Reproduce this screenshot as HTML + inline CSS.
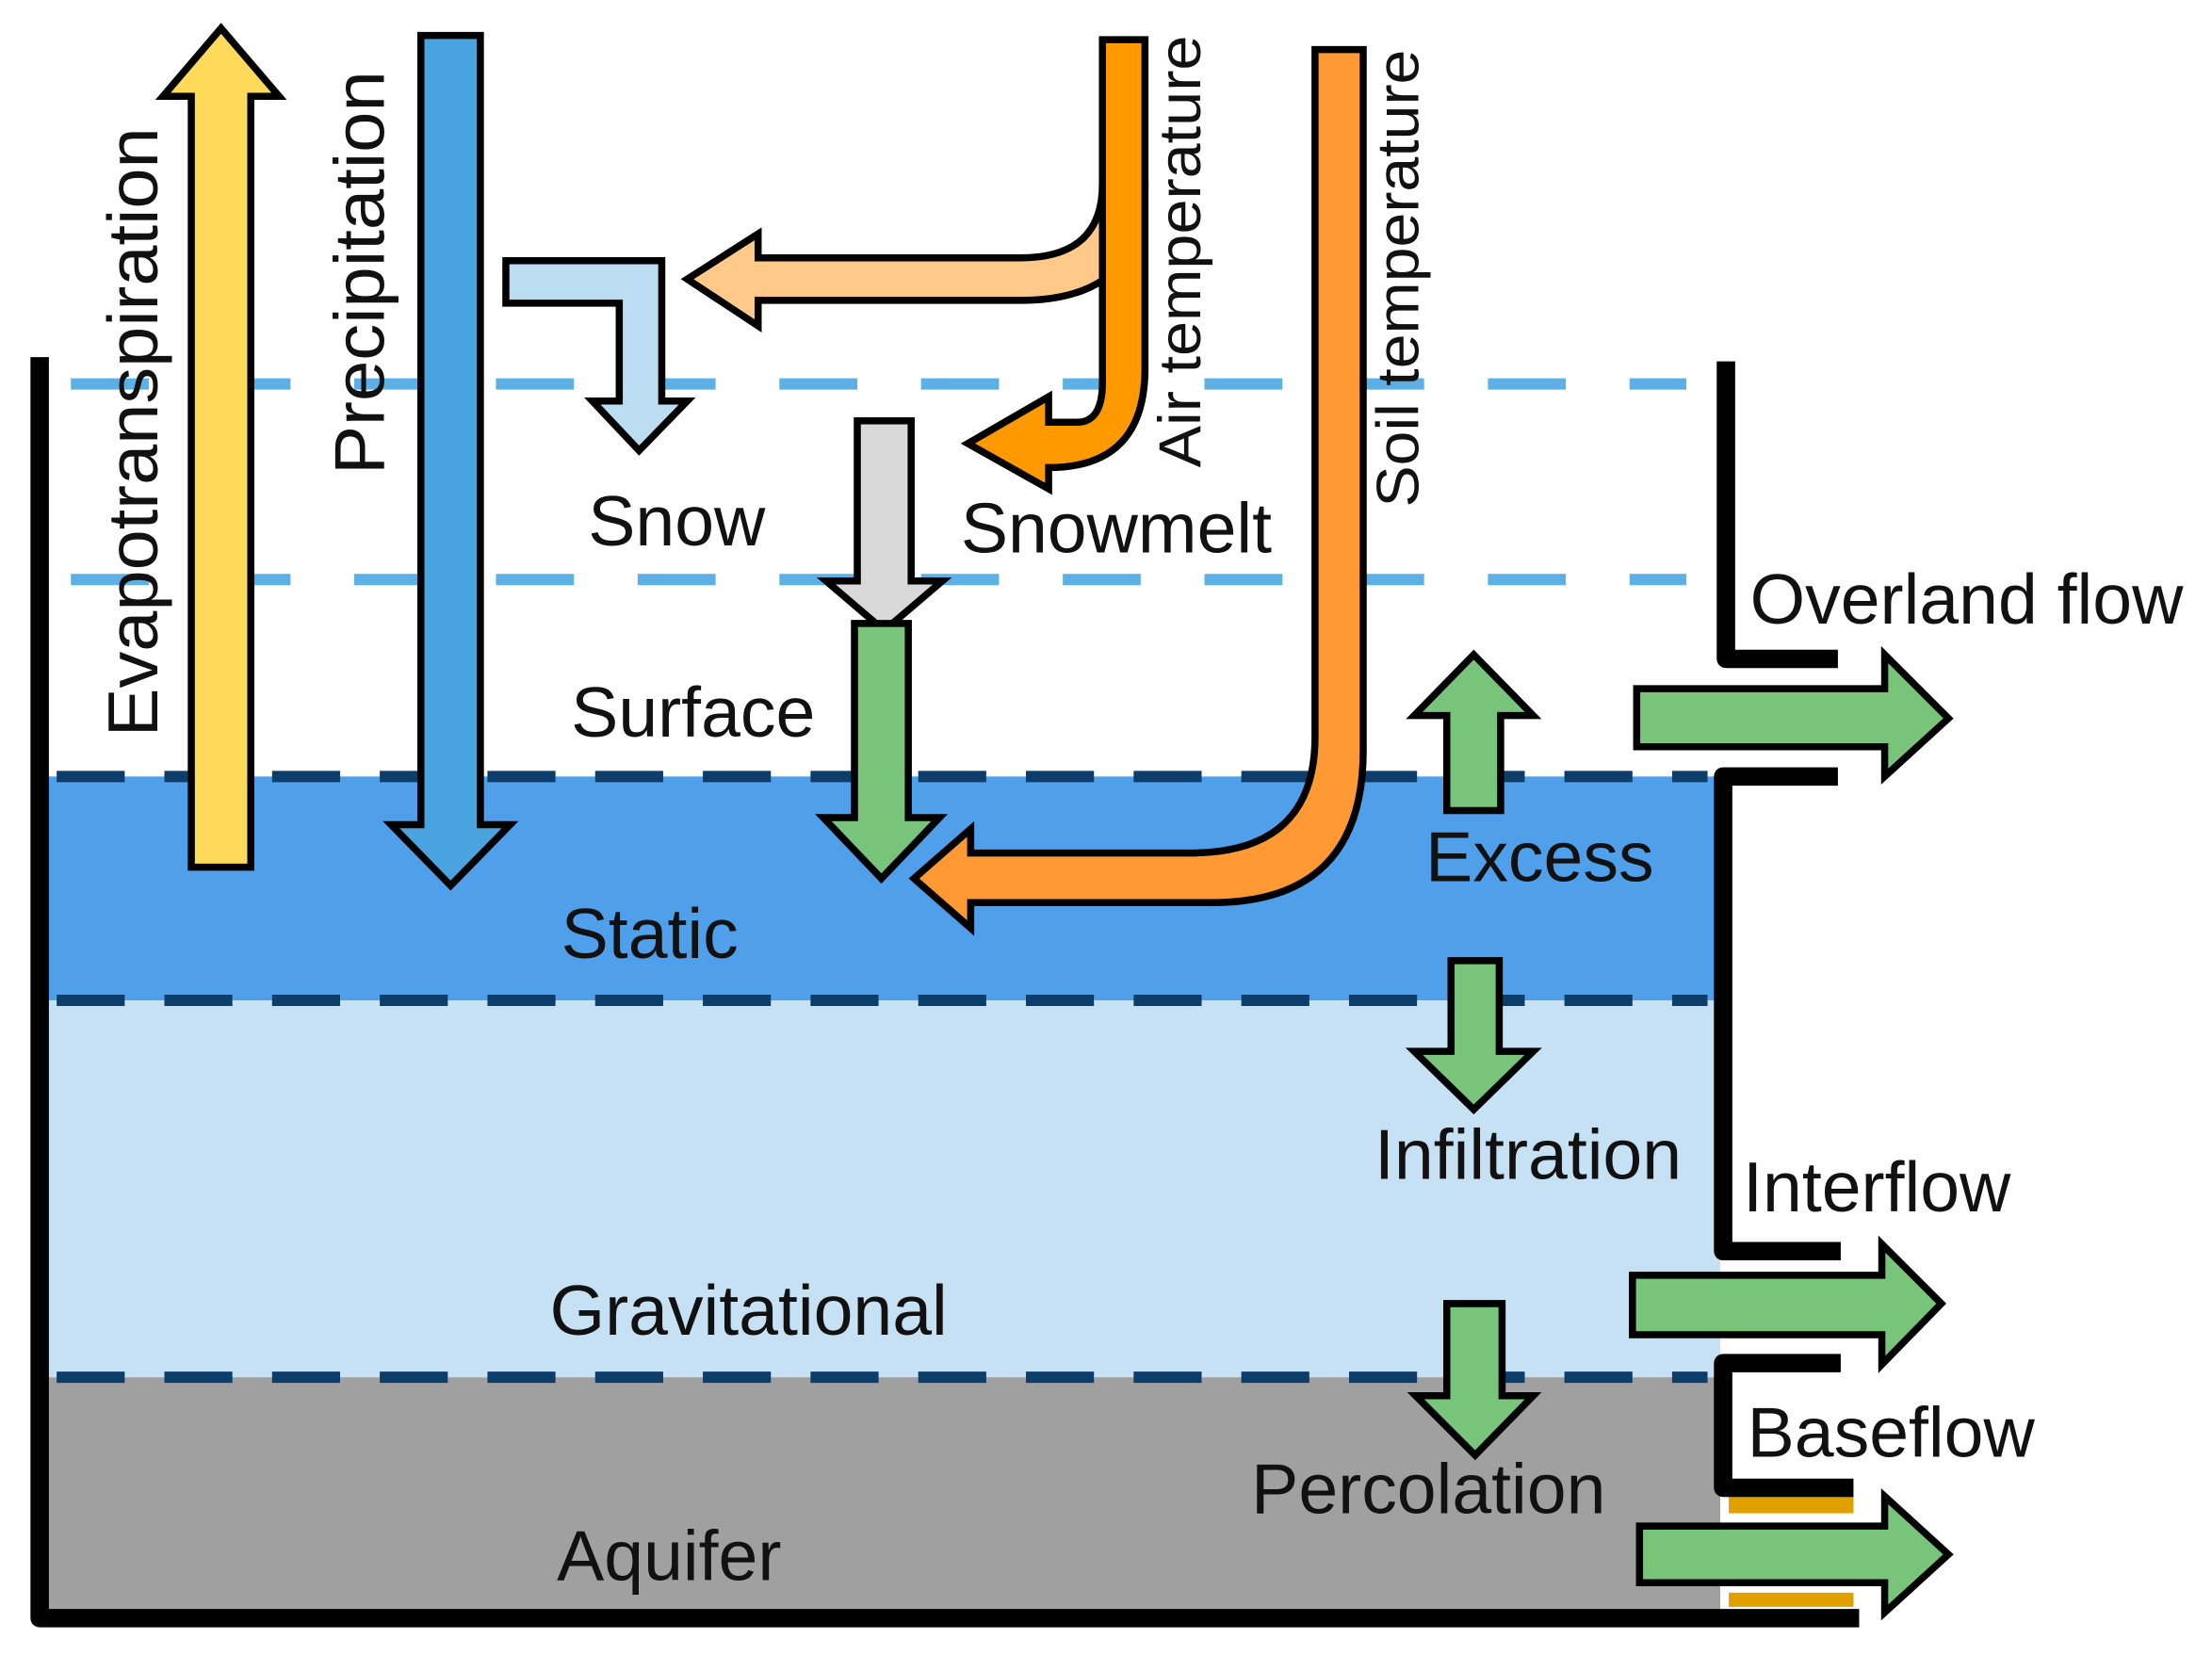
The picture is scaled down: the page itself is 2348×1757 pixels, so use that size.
<!DOCTYPE html>
<html><head><meta charset="utf-8"><style>
html,body{margin:0;padding:0;background:#fff}
svg{display:block}
text{font-family:"Liberation Sans",sans-serif;fill:#111}
</style></head><body>
<svg width="2348" height="1757" viewBox="0 0 1561 1168" preserveAspectRatio="none">
<rect x="0" y="0" width="1561" height="1168" fill="#fff"/>
<rect x="34" y="548" width="1180" height="158" fill="#4f9fea"/>
<rect x="34" y="706" width="1180" height="266" fill="#c6e1f4"/>
<rect x="34" y="972" width="1180" height="166" fill="#a0a0a0"/>
<g stroke-width="8" fill="none">
<line x1="50" y1="271" x2="1190" y2="271" stroke="#5cb0e6" stroke-dasharray="55 45"/>
<line x1="50" y1="409" x2="1190" y2="409" stroke="#5cb0e6" stroke-dasharray="55 45"/>
<line x1="40" y1="548" x2="1205" y2="548" stroke="#0d3d6b" stroke-dasharray="48 28"/>
<line x1="40" y1="706" x2="1205" y2="706" stroke="#0d3d6b" stroke-dasharray="48 28"/>
<line x1="40" y1="972" x2="1205" y2="972" stroke="#0d3d6b" stroke-dasharray="48 28"/>
</g>
<rect x="1220" y="1056" width="88" height="12" fill="#e0a000"/>
<rect x="1220" y="1124" width="88" height="10" fill="#e0a000"/>
<g stroke="#000" stroke-width="13" fill="none" stroke-linejoin="round">
<polyline points="28,252 28,1142 1312,1142"/>
<polyline points="1218,255 1218,465 1297,465"/>
<polyline points="1297,548 1216,548 1216,883 1299,883"/>
<polyline points="1299,962 1216,962 1216,1050 1308,1050"/>
</g>
<g stroke="#000" stroke-width="5" stroke-linejoin="miter">
<polygon points="135,612 177,612 177,68 197,68 156,20 115,68 135,68" fill="#ffd95a"/>
<polygon points="297,25 339,25 339,582 360,582 318,625 276,582 297,582" fill="#48a3de"/>
<polygon points="357,184 467,184 467,283 485,283 451,318 418,283 437,283 437,214 357,214" fill="#bcdcf2"/>
<path d="M808,130 Q808,212 720,212 L535,212 L535,230 L485,197 L535,165 L535,182 L720,182 Q778,182 778,130 Z" fill="#ffc98a"/>
<path d="M778,28 L808,28 L808,260 Q808,330 740,330 L740,345 L683,313 L740,280 L740,298 L760,298 Q778,298 778,270 Z" fill="#ff9900"/>
<polygon points="605,297 643,297 643,410 665,410 624,445 583,410 605,410" fill="#d9d9d9"/>
<polygon points="603,440 641,440 641,577 663,577 622,620 581,577 603,577" fill="#78c47a"/>
<path d="M928,35 L962,35 L962,530 Q962,637 855,637 L685,637 L685,655 L645,620 L685,585 L685,602 L840,602 Q928,602 928,520 Z" fill="#ff9933"/>
<polygon points="1021,572 1059,572 1059,505 1082,505 1040,462 998,505 1021,505" fill="#78c47a"/>
<polygon points="1024,678 1058,678 1058,742 1082,742 1040,783 998,742 1024,742" fill="#78c47a"/>
<polygon points="1021,920 1060,920 1060,985 1082,985 1041,1027 999,985 1021,985" fill="#78c47a"/>
<polygon points="1155,486 1330,486 1330,462 1375,507 1330,548 1330,527 1155,527" fill="#78c47a"/>
<polygon points="1152,900 1328,900 1328,878 1370,920 1328,963 1328,942 1152,942" fill="#78c47a"/>
<polygon points="1157,1077 1330,1077 1330,1056 1375,1097 1330,1138 1330,1117 1157,1117" fill="#78c47a"/>
</g>
<g font-size="50">
<text x="415" y="385">Snow</text>
<text x="678" y="390">Snowmelt</text>
<text x="403" y="520">Surface</text>
<text x="396" y="676">Static</text>
<text x="1006" y="622">Excess</text>
<text x="970" y="832">Infiltration</text>
<text x="388" y="942">Gravitational</text>
<text x="883" y="1068">Percolation</text>
<text x="393" y="1115">Aquifer</text>
<text x="1235" y="440">Overland flow</text>
<text x="1230" y="855">Interflow</text>
<text x="1233" y="1028">Baseflow</text>
<text transform="translate(111,520) rotate(-90)" textLength="430" lengthAdjust="spacingAndGlyphs">Evapotranspiration</text>
<text transform="translate(271,335) rotate(-90)" textLength="285" lengthAdjust="spacingAndGlyphs">Precipitation</text>
</g>
<g font-size="42">
<text transform="translate(847,330) rotate(-90)" textLength="305" lengthAdjust="spacingAndGlyphs">Air temperature</text>
<text transform="translate(1001,358) rotate(-90)" textLength="323" lengthAdjust="spacingAndGlyphs">Soil temperature</text>
</g>
</svg>
</body></html>
